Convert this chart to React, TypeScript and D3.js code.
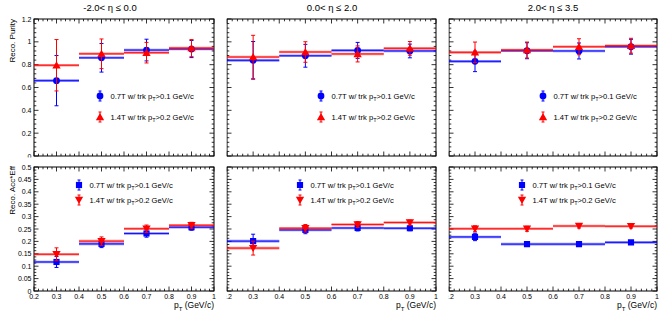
import React from "react";
import * as d3 from "d3";

// binning and labels
const ptCenters = [0.3, 0.5, 0.7, 0.9];
const ptHalfWidth = 0.1;
const xTickValues = [0.2, 0.3, 0.4, 0.5, 0.6, 0.7, 0.8, 0.9, 1.0];
const xTickLabels = ["0.2", "0.3", "0.4", "0.5", "0.6", "0.7", "0.8", "0.9", "1"];
const etaTitles = ["-2.0< \u03b7 \u2264 0.0", "0.0< \u03b7 \u2264 2.0", "2.0< \u03b7 \u2264 3.5"];
const purityTicks = [0, 0.2, 0.4, 0.6, 0.8, 1.0, 1.2];
const purityTickLabels = ["0", "0.2", "0.4", "0.6", "0.8", "1", "1.2"];
const effTicks = [0, 0.05, 0.1, 0.15, 0.2, 0.25, 0.3, 0.35, 0.4, 0.45, 0.5];
const effTickLabels = ["0", "0.05", "0.1", "0.15", "0.2", "0.25", "0.3", "0.35", "0.4", "0.45", "0.5"];
const legend07 = "0.7T w/ trk p";
const legend07Tail = ">0.1 GeV/c";
const legend14 = "1.4T w/ trk p";
const legend14Tail = ">0.2 GeV/c";

// purity, 0.7T
const purity07Eta1 = [0.66, 0.86, 0.928, 0.937];
const purity07Eta1Err = [0.22, 0.125, 0.095, 0.075];
const purity07Eta2 = [0.838, 0.878, 0.925, 0.92];
const purity07Eta2Err = [0.165, 0.1, 0.07, 0.06];
const purity07Eta3 = [0.829, 0.922, 0.92, 0.957];
const purity07Eta3Err = [0.09, 0.07, 0.07, 0.065];
// purity, 1.4T
const purity14Eta1 = [0.795, 0.895, 0.905, 0.945];
const purity14Eta1Err = [0.225, 0.13, 0.09, 0.075];
const purity14Eta2 = [0.867, 0.911, 0.894, 0.943];
const purity14Eta2Err = [0.19, 0.09, 0.07, 0.06];
const purity14Eta3 = [0.908, 0.928, 0.957, 0.966];
const purity14Eta3Err = [0.09, 0.07, 0.07, 0.065];
// acc*eff, 0.7T
const eff07Eta1 = [0.117, 0.19, 0.232, 0.257];
const eff07Eta1Err = [0.022, 0.015, 0.015, 0.012];
const eff07Eta2 = [0.201, 0.246, 0.254, 0.253];
const eff07Eta2Err = [0.028, 0.015, 0.012, 0.01];
const eff07Eta3 = [0.218, 0.189, 0.189, 0.196];
const eff07Eta3Err = [0.015, 0.006, 0.005, 0.005];
// acc*eff, 1.4T
const eff14Eta1 = [0.148, 0.201, 0.251, 0.265];
const eff14Eta1Err = [0.026, 0.017, 0.015, 0.012];
const eff14Eta2 = [0.173, 0.253, 0.268, 0.276];
const eff14Eta2Err = [0.028, 0.015, 0.012, 0.01];
const eff14Eta3 = [0.251, 0.251, 0.262, 0.261];
const eff14Eta3Err = [0.012, 0.01, 0.008, 0.007];

const FONT = "'Liberation Sans', Arial, Helvetica, sans-serif";
const BLUE = "#0000ff";
const RED = "#ff0000";

// pad layout
const cols = [
  { x0: 34, x1: 214, clipX0: 0, clipX1: 221, cx: 110 },
  { x0: 227, x1: 436, clipX0: 226.5, clipX1: 440, cx: 332 },
  { x0: 449, x1: 657, clipX0: 448.5, clipX1: 664, cx: 553 },
];
const rows = [
  { y0: 19, y1: 156, clipY0: 0, clipY1: 157.5 },
  { y0: 167, y1: 291, clipY0: 159, clipY1: 319 },
];
const topLegend = [{ x: 100, y: 96 }, { x: 321, y: 96 }, { x: 543, y: 96 }];
const botLegend = [{ x: 79, y: 185 }, { x: 300, y: 185 }, { x: 522, y: 185 }];

const symTri = d3.symbol().type(d3.symbolTriangle).size(30)()!;
const symSq = d3.symbol().type(d3.symbolSquare).size(38)()!;

type Series = { vals: number[]; errs: number[]; color: string; marker: string };

function Marker({ x, y, kind, color }: { x: number; y: number; kind: string; color: string }) {
  if (kind === "circle") return <circle cx={x} cy={y} r={3.4} fill={color} />;
  if (kind === "tri") return <path d={symTri} transform={`translate(${x},${y + 0.8})`} fill={color} />;
  if (kind === "square") return <path d={symSq} transform={`translate(${x},${y})`} fill={color} />;
  return <path d={symTri} transform={`translate(${x},${y - 0.8}) rotate(180)`} fill={color} />;
}

function Panel(props: {
  ci: number;
  ri: number;
  series: Series[];
  yDomain: [number, number];
  yMajor: number[];
  yLabels: string[];
  yMinorStep: number;
  legendAt: { x: number; y: number };
  legendGap: number;
}) {
  const { ci, ri, series, yDomain, yMajor, yLabels, yMinorStep, legendAt, legendGap } = props;
  const c = cols[ci];
  const r = rows[ri];
  const x = d3.scaleLinear().domain([0.2, 1.0]).range([c.x0, c.x1]);
  const y = d3.scaleLinear().domain(yDomain).range([r.y1, r.y0]);
  const xMinor = d3.range(0.2, 1.0001, 0.02);
  const yMinor = d3.range(yDomain[0], yDomain[1] + 1e-6, yMinorStep);
  const id = `clip-${ci}-${ri}`;
  const legendRows = [
    { s: series[0], text: legend07, tail: legend07Tail },
    { s: series[1], text: legend14, tail: legend14Tail },
  ];
  return (
    <g clipPath={`url(#${id})`}>
      <defs>
        <clipPath id={id}>
          <rect x={c.clipX0} y={r.clipY0} width={c.clipX1 - c.clipX0} height={r.clipY1 - r.clipY0} />
        </clipPath>
      </defs>
      {/* ticks on all four sides */}
      <g stroke="#000" strokeWidth={0.8}>
        {xMinor.map((v, i) => {
          const major = i % 5 === 0;
          const L = major ? 4.5 : 2.3;
          return (
            <g key={"xm" + i}>
              <line x1={x(v)} x2={x(v)} y1={r.y1} y2={r.y1 - L} />
              <line x1={x(v)} x2={x(v)} y1={r.y0} y2={r.y0 + L} />
            </g>
          );
        })}
        {yMinor.map((v, i) => {
          const major = yMajor.some((m) => Math.abs(m - v) < 1e-6);
          const L = major ? 4.5 : 2.3;
          return (
            <g key={"ym" + i}>
              <line x1={c.x0} x2={c.x0 + L} y1={y(v)} y2={y(v)} />
              <line x1={c.x1} x2={c.x1 - L} y1={y(v)} y2={y(v)} />
            </g>
          );
        })}
      </g>
      <rect x={c.x0} y={r.y0} width={c.x1 - c.x0} height={r.y1 - r.y0} fill="none" stroke="#000" strokeWidth={1} />
      {/* y tick labels */}
      {ci === 0 &&
        yMajor.map((v, i) => (
          <text key={"yl" + i} x={c.x0 - 2.5} y={y(v) + 2.5} textAnchor="end" fontSize={7} fontFamily={FONT} fill="#000">
            {yLabels[i]}
          </text>
        ))}
      {/* x tick labels */}
      {ri === 1 &&
        xTickValues.map((v, i) => (
          <text key={"xl" + i} x={x(v)} y={r.y1 + 7.5} textAnchor="middle" fontSize={7} fontFamily={FONT} fill="#000">
            {xTickLabels[i]}
          </text>
        ))}
      {ri === 1 && (
        <text x={c.x1} y={r.y1 + 17} textAnchor="end" fontSize={8.5} fontFamily={FONT} fill="#000">
          p<tspan dy={2.5} fontSize={6}>T</tspan>
          <tspan dy={-2.5}> (GeV/c)</tspan>
        </text>
      )}
      {/* data */}
      {series.map((s, si) => (
        <g key={"s" + si}>
          {ptCenters.map((pt, i) => (
            <g key={i}>
              <line x1={x(pt - ptHalfWidth)} x2={x(pt + ptHalfWidth)} y1={y(s.vals[i])} y2={y(s.vals[i])} stroke={s.color} strokeWidth={2.6} strokeOpacity={0.45} />
              <line x1={x(pt - ptHalfWidth)} x2={x(pt + ptHalfWidth)} y1={y(s.vals[i])} y2={y(s.vals[i])} stroke={s.color} strokeWidth={0.9} />
              <line x1={x(pt)} x2={x(pt)} y1={y(s.vals[i] - s.errs[i])} y2={y(s.vals[i] + s.errs[i])} stroke={s.color} strokeWidth={1} />
              <line x1={x(pt) - 2} x2={x(pt) + 2} y1={y(s.vals[i] - s.errs[i])} y2={y(s.vals[i] - s.errs[i])} stroke={s.color} strokeWidth={1} />
              <line x1={x(pt) - 2} x2={x(pt) + 2} y1={y(s.vals[i] + s.errs[i])} y2={y(s.vals[i] + s.errs[i])} stroke={s.color} strokeWidth={1} />
            </g>
          ))}
          {ptCenters.map((pt, i) => (
            <Marker key={"m" + i} x={x(pt)} y={y(s.vals[i])} kind={s.marker} color={s.color} />
          ))}
        </g>
      ))}
      {/* legend */}
      {legendRows.map((lr, i) => {
        const ly = legendAt.y + i * legendGap;
        return (
          <g key={"lg" + i}>
            <line x1={legendAt.x} x2={legendAt.x} y1={ly - 5} y2={ly + 5} stroke={lr.s.color} strokeWidth={1} />
            <line x1={legendAt.x - 1.5} x2={legendAt.x + 1.5} y1={ly - 5} y2={ly - 5} stroke={lr.s.color} strokeWidth={1} />
            <line x1={legendAt.x - 1.5} x2={legendAt.x + 1.5} y1={ly + 5} y2={ly + 5} stroke={lr.s.color} strokeWidth={1} />
            <Marker x={legendAt.x} y={ly} kind={lr.s.marker} color={lr.s.color} />
            <text x={legendAt.x + 10.5} y={ly + 2.6} fontSize={7.6} fontFamily={FONT} fill="#000">
              {lr.text}
              <tspan dy={2.2} fontSize={5.5}>T</tspan>
              <tspan dy={-2.2}>{lr.tail}</tspan>
            </text>
          </g>
        );
      })}
    </g>
  );
}

export default function App() {
  const purity07 = [
    [purity07Eta1, purity07Eta1Err],
    [purity07Eta2, purity07Eta2Err],
    [purity07Eta3, purity07Eta3Err],
  ];
  const purity14 = [
    [purity14Eta1, purity14Eta1Err],
    [purity14Eta2, purity14Eta2Err],
    [purity14Eta3, purity14Eta3Err],
  ];
  const eff07 = [
    [eff07Eta1, eff07Eta1Err],
    [eff07Eta2, eff07Eta2Err],
    [eff07Eta3, eff07Eta3Err],
  ];
  const eff14 = [
    [eff14Eta1, eff14Eta1Err],
    [eff14Eta2, eff14Eta2Err],
    [eff14Eta3, eff14Eta3Err],
  ];

  return (
    <div style={{ position: "fixed", left: 0, top: 0 }}>
      <svg width={664} height={319} style={{ display: "block", background: "#fff" }}>
        {etaTitles.map((t, i) => (
          <text key={"t" + i} x={cols[i].cx} y={11} textAnchor="middle" fontSize={9.5} fontFamily={FONT} fill="#000">
            {t}
          </text>
        ))}
        <text transform="translate(14.5,19) rotate(-90)" textAnchor="end" fontSize={8} fontFamily={FONT} fill="#000">
          Reco. Purity
        </text>
        <text transform="translate(14.5,166) rotate(-90)" textAnchor="end" fontSize={8} fontFamily={FONT} fill="#000">
          Reco. Acc*Eff
        </text>
        {[0, 1, 2].map((ci) => (
          <g key={"c" + ci}>
            <Panel
              ci={ci}
              ri={0}
              series={[
                { vals: purity07[ci][0], errs: purity07[ci][1], color: BLUE, marker: "circle" },
                { vals: purity14[ci][0], errs: purity14[ci][1], color: RED, marker: "tri" },
              ]}
              yDomain={[0, 1.2]}
              yMajor={purityTicks}
              yLabels={purityTickLabels}
              yMinorStep={0.04}
              legendAt={topLegend[ci]}
              legendGap={21}
            />
            <Panel
              ci={ci}
              ri={1}
              series={[
                { vals: eff07[ci][0], errs: eff07[ci][1], color: BLUE, marker: "square" },
                { vals: eff14[ci][0], errs: eff14[ci][1], color: RED, marker: "itri" },
              ]}
              yDomain={[0, 0.5]}
              yMajor={effTicks}
              yLabels={effTickLabels}
              yMinorStep={0.0125}
              legendAt={botLegend[ci]}
              legendGap={15}
            />
          </g>
        ))}
      </svg>
    </div>
  );
}
